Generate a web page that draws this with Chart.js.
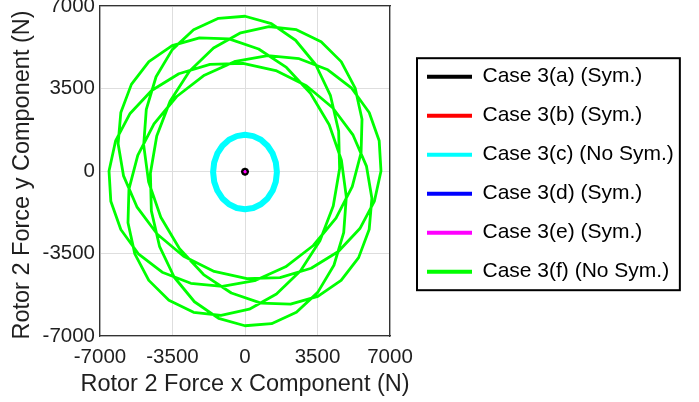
<!DOCTYPE html>
<html>
<head>
<meta charset="utf-8">
<title>Rotor 2 force locus</title>
<script src="https://cdn.jsdelivr.net/npm/chart.js@4.4.1/dist/chart.umd.min.js"></script>
<style>
  html, body { margin: 0; padding: 0; background: #fff; }
  canvas { display: block; }
</style>
</head>
<body>
<canvas id="chart" width="699" height="402"></canvas>
<script>
// axis ticks and titles
const xTicks = [-7000, -3500, 0, 3500, 7000];
const yTicks = [-7000, -3500, 0, 3500, 7000];
const xTitle = 'Rotor 2 Force x Component (N)';
const yTitle = 'Rotor 2 Force y Component (N)';

// legend labels, in plotting order
const caseLabels = [
  'Case 3(a) (Sym.)',
  'Case 3(b) (Sym.)',
  'Case 3(c) (No Sym.)',
  'Case 3(d) (Sym.)',
  'Case 3(e) (Sym.)',
  'Case 3(f) (No Sym.)'
];
const caseColors = ['#000000', '#ff0000', '#00ffff', '#0000ff', '#ff00ff', '#00ff00'];
const caseWidths = [3.2, 2, 6, 2, 2.5, 2.8];

// symmetric cases: tiny loops at the origin (N)
const caseAx = [120, 85, 0, -85, -120, -85, 0, 85, 120];
const caseAy = [-30, 45, 75, 45, -30, -105, -135, -105, -30];
const caseBx = [20, 0, -20, 0, 20];
const caseBy = [-30, -10, -30, -50, -30];
const caseDx = [15, 0, -15, 0, 15];
const caseDy = [-30, -15, -30, -45, -30];
const caseEx = [15, 0, -15, 0, 15];
const caseEy = [-30, -15, -30, -45, -30];

// case 3(c): small ring
const caseCx = [1540, 1488, 1334, 1089, 770, 399, 0, -399, -770, -1089, -1334, -1488,
  -1540, -1488, -1334, -1089, -770, -399, 0, 399, 770, 1089, 1334, 1488, 1540];
const caseCy = [-45, 364, 745, 1072, 1323, 1481, 1535, 1481, 1323, 1072, 745, 364,
  -45, -454, -835, -1162, -1413, -1571, -1625, -1571, -1413, -1162, -835, -454, -45];

// case 3(f): large rosette, read point by point
const caseFx = [
  -6565, -6249, -5547, -4507, -3194, -1692, -96, 1488, 2963, 4232, 5219, 5863, 6125, 5994, 5485,
  4640, 3517, 2197, 772, -659, -2000, -3160, -4065, -4654, -4891, -4765, -4293, -3512, -2482, -1280,
  3, 1274, 2441, 3415, 4127, 4521, 4567, 4260, 3617, 2683, 1519, 208, -1157, -2483, -3675,
  -4644, -5319, -5649, -5603, -5177, -4393, -3298, -1960, -463, 1096, 2616, 3998, 5149, 5995, 6478,
  6565, 6249, 5547, 4507, 3194, 1692, 96, -1488, -2963, -4232, -5219, -5863, -6125, -5994, -5485,
  -4640, -3517, -2197, -772, 659, 2000, 3160, 4065, 4654, 4891, 4765, 4293, 3512, 2482, 1280,
  -3, -1274, -2441, -3415, -4127, -4521, -4567, -4260, -3617, -2683, -1519, -208, 1157, 2483, 3675,
  4644, 5319, 5649, 5603, 5177, 4393, 3298, 1960, 463, -1096, -2616, -3998, -5149, -5995, -6478,
  -6565
];
const caseFy = [
  3, 1274, 2441, 3415, 4127, 4521, 4567, 4260, 3617, 2683, 1519, 208, -1157, -2483, -3675,
  -4644, -5319, -5649, -5603, -5177, -4393, -3298, -1960, -463, 1096, 2616, 3998, 5149, 5995, 6478,
  6565, 6249, 5547, 4507, 3194, 1692, 96, -1488, -2963, -4232, -5219, -5863, -6125, -5994, -5485,
  -4640, -3517, -2197, -772, 659, 2000, 3160, 4065, 4654, 4891, 4765, 4293, 3512, 2482, 1280,
  -3, -1274, -2441, -3415, -4127, -4521, -4567, -4260, -3617, -2683, -1519, -208, 1157, 2483, 3675,
  4644, 5319, 5649, 5603, 5177, 4393, 3298, 1960, 463, -1096, -2616, -3998, -5149, -5995, -6478,
  -6565, -6249, -5547, -4507, -3194, -1692, -96, 1488, 2963, 4232, 5219, 5863, 6125, 5994, 5485,
  4640, 3517, 2197, 772, -659, -2000, -3160, -4065, -4654, -4891, -4765, -4293, -3512, -2482, -1280,
  3
];

const FONT = '"Liberation Sans", Arial, Helvetica, sans-serif';
const TEXT = '#1f1f1f';
const GRID = '#dedede';
const AXIS = '#333333';

// legend sizing: line sample + gap + text
const LEG_PAD = 18, LEG_BOX = 45, LEG_FONT = 21;
const meas = document.createElement('canvas').getContext('2d');
meas.font = LEG_FONT + 'px ' + FONT;
const maxLabelW = Math.max(...caseLabels.map(t => meas.measureText(t).width));
const legendW = LEG_PAD + LEG_BOX + LEG_FONT / 2 + maxLabelW + 10;
const padRight = 699 - 409 - legendW;

const series = [
  [caseAx, caseAy], [caseBx, caseBy], [caseCx, caseCy],
  [caseDx, caseDy], [caseEx, caseEy], [caseFx, caseFy]
];

const datasets = series.map(([xs, ys], i) => ({
  label: caseLabels[i],
  data: xs.map((x, k) => ({ x: x, y: ys[k] })),
  showLine: true,
  borderColor: caseColors[i],
  backgroundColor: caseColors[i],
  borderWidth: caseWidths[i],
  borderJoinStyle: 'round',
  borderCapStyle: 'round',
  pointRadius: 0,
  fill: false,
  tension: 0,
  order: series.length - i   // later cases drawn on top, like the original
}));

// black frame around the legend
const legendFrame = {
  id: 'legendFrame',
  afterDraw(chart) {
    const lg = chart.legend;
    const hb = lg.legendHitBoxes;
    if (!hb || !hb.length) return;
    const ctx = chart.ctx;
    const left = lg.left + 8;
    const right = Math.max(...hb.map(h => h.left + h.width)) + 6;
    const top = hb[0].top - 8;
    const bottom = hb[hb.length - 1].top + hb[hb.length - 1].height + 8;
    ctx.save();
    ctx.strokeStyle = '#000';
    ctx.lineWidth = 2;
    ctx.strokeRect(left, top, right - left, bottom - top);
    ctx.restore();
  }
};

// axis titles (drawn here so they are not squeezed to the plot width)
const axisTitles = {
  id: 'axisTitles',
  afterDraw(chart) {
    const { ctx, chartArea } = chart;
    const cx = (chartArea.left + chartArea.right) / 2;
    const cy = (chartArea.top + chartArea.bottom) / 2;
    ctx.save();
    ctx.fillStyle = TEXT;
    ctx.font = '23.5px ' + FONT;
    ctx.textAlign = 'center';
    ctx.textBaseline = 'middle';
    ctx.fillText(xTitle, cx, chartArea.bottom + 49);
    ctx.translate(23, cy + 4);
    ctx.rotate(-Math.PI / 2);
    ctx.fillText(yTitle, 0, 0);
    ctx.restore();
  }
};

const gridOpts = { color: GRID, lineWidth: 1, drawTicks: false, tickLength: 0 };
const borderOpts = { display: true, color: AXIS, width: 1.3 };

new Chart(document.getElementById('chart'), {
  type: 'scatter',
  data: { datasets: datasets },
  options: {
    responsive: false,
    animation: false,
    devicePixelRatio: 1,
    events: [],
    layout: { autoPadding: false, padding: { left: 0, top: 0, bottom: 0, right: padRight } },
    font: { family: FONT },
    plugins: {
      tooltip: { enabled: false },
      legend: {
        position: 'right',
        fullSize: false,
        maxWidth: 400,
        title: { display: true, text: ' ', font: { size: 1, lineHeight: 1 }, padding: { top: 0, bottom: 5.4 } },
        labels: {
          boxWidth: LEG_BOX,
          boxHeight: 4,
          padding: LEG_PAD,
          color: '#000',
          font: { family: FONT, size: LEG_FONT },
          generateLabels: chart => chart.data.datasets.map((ds, i) => ({
            text: ds.label,
            fillStyle: ds.borderColor,
            strokeStyle: ds.borderColor,
            fontColor: '#000',
            lineWidth: 0,
            hidden: false,
            datasetIndex: i
          }))
        }
      }
    },
    scales: {
      x: {
        type: 'linear',
        position: 'bottom',
        min: -7000,
        max: 7000,
        afterBuildTicks: s => { s.ticks = xTicks.map(v => ({ value: v })); },
        afterFit: s => { s.height = 66; s.paddingLeft = 0; s.paddingRight = 0; },
        grid: gridOpts,
        border: borderOpts,
        ticks: { padding: 9, maxRotation: 0, autoSkip: false, color: TEXT,
          font: { family: FONT, size: 20.5 }, callback: v => String(v) }
      },
      y: {
        type: 'linear',
        position: 'left',
        min: -7000,
        max: 7000,
        afterBuildTicks: s => { s.ticks = yTicks.map(v => ({ value: v })); },
        afterFit: s => { s.width = 100; s.paddingTop = 0; s.paddingBottom = 0; },
        grid: gridOpts,
        border: borderOpts,
        ticks: { padding: 5, autoSkip: false, color: TEXT,
          font: { family: FONT, size: 20.5 }, callback: v => String(v) }
      },
      x2: {
        type: 'linear',
        position: 'top',
        min: -7000,
        max: 7000,
        grid: { display: false, drawTicks: false },
        ticks: { display: false },
        border: borderOpts,
        afterFit: s => { s.height = 6; s.paddingLeft = 0; s.paddingRight = 0; }
      },
      y2: {
        type: 'linear',
        position: 'right',
        min: -7000,
        max: 7000,
        grid: { display: false, drawTicks: false },
        ticks: { display: false },
        border: borderOpts,
        afterFit: s => { s.width = 19; s.paddingTop = 0; s.paddingBottom = 0; }
      }
    }
  },
  plugins: [legendFrame, axisTitles]
});
</script>
</body>
</html>
